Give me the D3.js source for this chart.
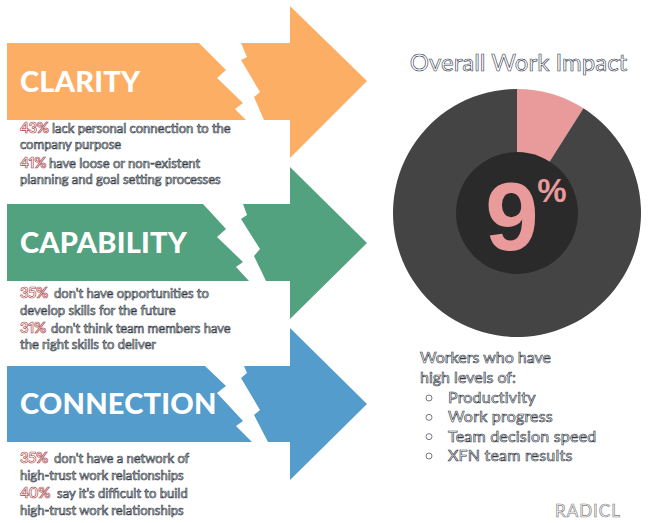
<!DOCTYPE html>
<html>
<head>
<meta charset="utf-8">
<script src="https://cdn.jsdelivr.net/npm/d3@7"></script>
<style>
html, body { margin: 0; padding: 0; background: #fff; }
svg { display: block; }
text { font-family: Lato, sans-serif; }
</style>
</head>
<body>
<div id="chart"></div>
<script>
const categories = ['CLARITY', 'CAPABILITY', 'CONNECTION'];
const categoryColors = ['#fbae64', '#53a27f', '#549ccb'];
const statValues = ['43%', '41%', '35%', '31%', '35%', '40%'];
const statTexts = [
	'lack personal connection to the',
	'have loose or non-existent',
	"don't have opportunities to",
	"don't think team members have",
	"don't have a network of",
	"say it's difficult to build"
];
const statSecondLines = [
	'company purpose',
	'planning and goal setting processes',
	'develop skills for the future',
	'the right skills to deliver',
	'high-trust work relationships',
	'high-trust work relationships'
];
const impactValues = [9, 91];
const impactColors = ['#e99a9a', '#444444'];
const workerLines = ['Workers who have', 'high levels of:'];
const workerItems = ['Productivity', 'Work progress', 'Team decision speed', 'XFN team results'];

const width = 648;
const height = 523;

const svg = d3.select('#chart').append('svg')
	.attr('width', width)
	.attr('height', height);

// broken arrows, one path pair per category
const leftPaths = [
	'M7,43 L199,43 L226,70 L217,78 L243,103 L235,109 L246,120 L7,120 Z',
	'M7,204 L203,204 L226,229 L217,237 L243,262 L236,267 L249,281 L7,281 Z',
	'M7,366 L205,366 L226,386 L217,393 L243,421 L236,426 L252,442 L7,442 Z'
];
const rightPaths = [
	'M241,43 L290,43 L290,6 L367,81 L290,158 L290,120 L264,120 L254,97 L260,92 L241,60 L247,57 Z',
	'M243,204 L290,204 L290,167 L367,243 L290,319 L290,281 L266,281 L254,256 L260,249 L241,219 L247,215 Z',
	'M244,366 L290,366 L290,328 L367,404 L290,480 L290,442 L268,442 L254,415 L260,410 L241,378 L247,373 Z'
];
const titleY = [92, 253, 414];

const arrows = svg.append('g').selectAll('g')
	.data(categories)
	.join('g');

arrows.append('path')
	.attr('d', (d, i) => leftPaths[i])
	.attr('fill', (d, i) => categoryColors[i]);
arrows.append('path')
	.attr('d', (d, i) => rightPaths[i])
	.attr('fill', (d, i) => categoryColors[i]);
arrows.append('text')
	.attr('x', 20)
	.attr('y', (d, i) => titleY[i])
	.attr('fill', '#fff')
	.attr('font-size', 29)
	.attr('font-weight', 900)
	.attr('letter-spacing', 0.2)
	.text(d => d);

// outlined body text
function outlined(sel, size, stroke) {
	return sel
		.attr('font-size', size)
		.attr('fill', '#fff')
		.attr('stroke', stroke)
		.attr('stroke-width', 0.65);
}

const statY = [133, 168, 298, 333, 463, 498];
const statTextX = [52, 49, 54, 51, 54, 57];
const secondY = [149, 184, 315, 349, 480, 515];

const stats = svg.append('g').selectAll('g')
	.data(statValues)
	.join('g');

stats.append('text')
	.attr('x', 20)
	.attr('y', (d, i) => statY[i])
	.call(outlined, 15, '#a8403f')
	.attr('font-weight', 700)
	.attr('letter-spacing', -0.4)
	.style('font-feature-settings', '"pnum"')
	.text(d => d);
stats.append('text')
	.attr('x', (d, i) => statTextX[i])
	.attr('y', (d, i) => statY[i])
	.call(outlined, 13, '#2c3340')
	.text((d, i) => statTexts[i]);
stats.append('text')
	.attr('x', 20)
	.attr('y', (d, i) => secondY[i])
	.call(outlined, 13, '#2c3340')
	.text((d, i) => statSecondLines[i]);

// donut with the 9% slice starting at 12 o'clock
const cx = 517;
const cy = 213;
const outerR = 124;
const innerR = 61;

const pie = d3.pie().sort(null).value(d => d);
const arc = d3.arc().innerRadius(0).outerRadius(outerR);

const donut = svg.append('g').attr('transform', `translate(${cx},${cy})`);
donut.selectAll('path')
	.data(pie(impactValues))
	.join('path')
	.attr('d', arc)
	.attr('fill', (d, i) => impactColors[i]);
donut.append('circle')
	.attr('r', innerR)
	.attr('fill', '#2a2a2a');
donut.append('text')
	.attr('x', -5)
	.attr('y', 37)
	.attr('text-anchor', 'middle')
	.attr('fill', impactColors[0])
	.attr('font-size', 96)
	.attr('font-weight', 700)
	.style('font-family', '"Liberation Sans", sans-serif')
	.text(impactValues[0]);
donut.append('text')
	.attr('x', 35)
	.attr('y', -11)
	.attr('text-anchor', 'middle')
	.attr('fill', impactColors[0])
	.attr('font-size', 33)
	.attr('font-weight', 700)
	.style('font-family', '"Liberation Sans", sans-serif')
	.text('%');

svg.append('text')
	.attr('x', 518.5)
	.attr('y', 71)
	.attr('text-anchor', 'middle')
	.call(outlined, 24, '#3a4456')
	.text('Overall Work Impact');

svg.append('g').selectAll('text')
	.data(workerLines)
	.join('text')
	.attr('x', 420)
	.attr('y', (d, i) => 363 + i * 20)
	.call(outlined, 16, '#2c3340')
	.text(d => d);

const itemY = d3.scalePoint()
	.domain(workerItems)
	.range([403, 461]);

const items = svg.append('g').selectAll('g')
	.data(workerItems)
	.join('g');
items.append('circle')
	.attr('cx', 429)
	.attr('cy', d => itemY(d) - 5)
	.attr('r', 3)
	.attr('fill', '#fff')
	.attr('stroke', '#3b4250')
	.attr('stroke-width', 0.7);
items.append('text')
	.attr('x', 448)
	.attr('y', d => itemY(d))
	.call(outlined, 16, '#2c3340')
	.attr('letter-spacing', 0.2)
	.text(d => d);

svg.append('text')
	.attr('x', 555)
	.attr('y', 517)
	.call(outlined, 17, '#808080')
	.attr('letter-spacing', 1)
	.text('RADICL');
</script>
</body>
</html>
